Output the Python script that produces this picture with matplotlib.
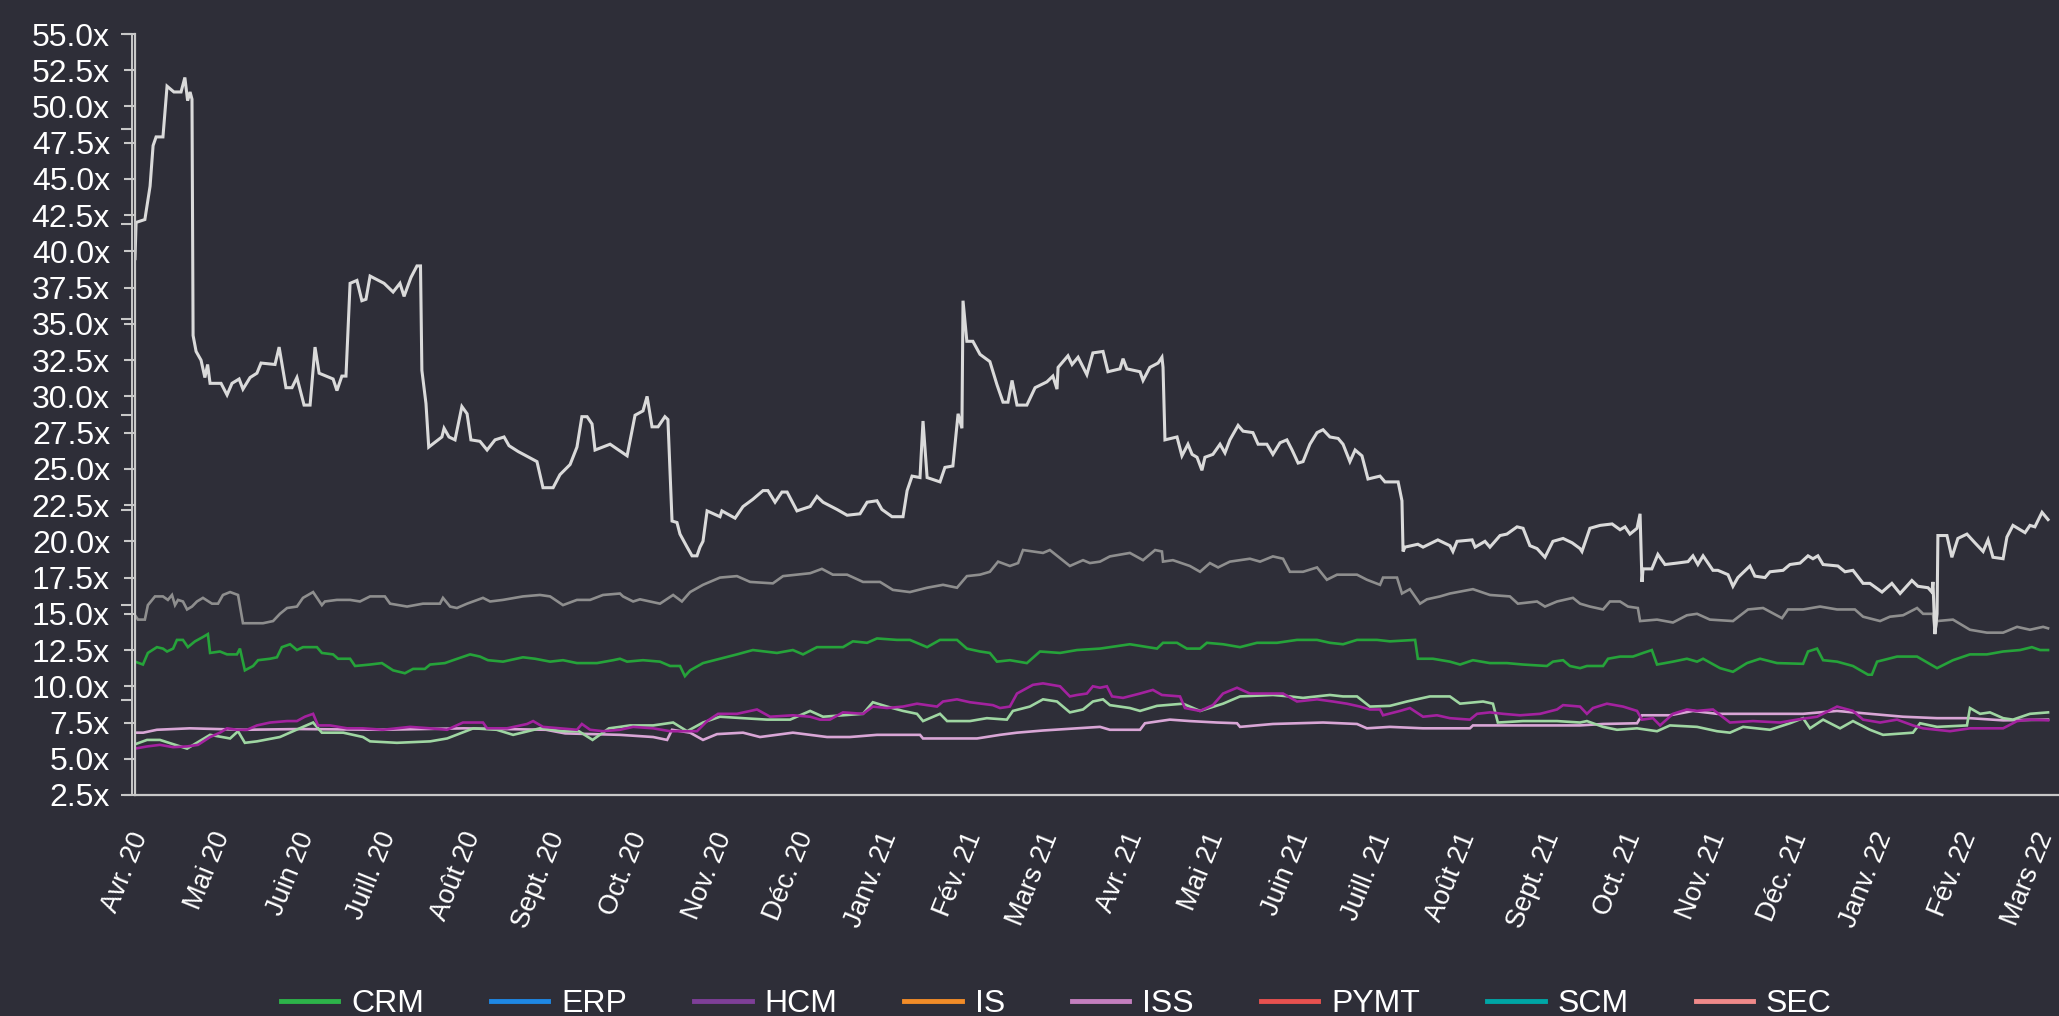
import numpy as np
import matplotlib
matplotlib.use("Agg")
import matplotlib.pyplot as plt
import matplotlib.transforms as mtransforms
from matplotlib.lines import Line2D

plt.rcParams['font.family'] = ['Liberation Sans', 'DejaVu Sans']

# ---------------- data ----------------
# x positions are in "chart days" (time axis units)
x_range = (0.0, 702.2)

month_labels = ['Avr. 20', 'Mai 20', 'Juin 20', 'Juill. 20', 'Août 20', 'Sept. 20',
                'Oct. 20', 'Nov. 20', 'Déc. 20', 'Janv. 21', 'Fév. 21', 'Mars 21',
                'Avr. 21', 'Mai 21', 'Juin 21', 'Juill. 21', 'Août 21', 'Sept. 21',
                'Oct. 21', 'Nov. 21', 'Déc. 21', 'Janv. 22', 'Fév. 22', 'Mars 22']
month_tick_pos = [0.0, 29.8, 60.7, 90.5, 121.4, 152.2, 182.0, 212.9, 242.7, 273.5, 304.4, 332.2,
                  363.1, 392.9, 423.7, 453.6, 484.4, 515.3, 545.1, 575.9, 605.8, 636.6, 667.4, 695.3]

legend_names = ['CRM', 'ERP', 'HCM', 'IS', 'ISS', 'PYMT', 'SCM', 'SEC']
legend_colors = ['#2db34a', '#1e88e5', '#7e3f98', '#f28c28', '#c47fbf', '#e8514f', '#00a6a6', '#f08a8a']

y_ticks = [2.5, 5.0, 7.5, 10.0, 12.5, 15.0, 17.5, 20.0, 22.5, 25.0, 27.5, 30.0,
           32.5, 35.0, 37.5, 40.0, 42.5, 45.0, 47.5, 50.0, 52.5, 55.0]

white_days = [0.0, 0.4, 3.6, 5.5, 6.6, 7.7, 10.2, 11.7, 14.2, 16.8, 18.2, 19.2, 20.1, 20.8, 21.2, 22.3, 24.1, 25.5, 26.5, 27.4,
              31.4, 33.6, 35.4, 38.0, 39.4, 42.0, 44.5, 46.0, 51.1, 52.6, 55.1, 57.3, 59.1, 61.7, 63.9, 65.7, 67.2, 72.3, 73.7, 75.5,
              77.0, 78.5, 81.0, 82.8, 84.3, 85.8, 90.9, 94.2, 96.7, 98.2, 100.7, 102.9, 104.2, 104.7, 106.2, 107.2, 112.0, 112.8, 114.6, 116.8,
              119.3, 121.2, 122.6, 125.9, 128.5, 131.4, 134.7, 136.5, 139.8, 146.7, 148.9, 152.6, 155.1, 158.8, 161.3, 163.1, 165.0, 166.8, 167.9, 173.4,
              178.1, 179.6, 182.5, 185.4, 186.9, 188.7, 190.9, 193.4, 194.5, 196.0, 197.8, 198.9, 201.5, 203.3, 205.1, 206.2, 207.3, 208.8, 213.5, 214.2,
              219.0, 221.9, 225.5, 229.2, 231.0, 233.6, 236.1, 238.0, 241.6, 246.4, 248.9, 251.1, 256.2, 259.9, 264.6, 267.2, 270.8, 272.6, 276.3, 280.3,
              281.8, 283.6, 286.5, 287.6, 289.1, 293.8, 295.6, 298.5, 300.4, 301.8, 302.2, 303.6, 305.8, 308.4, 312.0, 314.6, 316.8, 318.6, 320.1, 321.9,
              325.5, 328.5, 332.8, 335.0, 336.5, 336.9, 340.5, 342.0, 344.2, 347.4, 349.6, 353.3, 355.1, 359.5, 360.6, 362.0, 366.8, 367.9, 370.4, 373.4,
              374.8, 375.2, 375.9, 380.3, 382.1, 384.3, 385.8, 387.6, 389.4, 390.5, 393.4, 396.0, 397.8, 399.6, 402.6, 404.4, 408.0, 409.9, 413.1, 415.3,
              417.9, 420.4, 422.3, 424.5, 426.3, 428.8, 431.4, 433.6, 436.1, 439.1, 440.9, 443.4, 445.3, 447.8, 450.0, 454.4, 456.2, 461.0, 462.4, 462.8,
              463.5, 468.2, 470.1, 475.5, 479.9, 481.0, 482.5, 488.0, 489.1, 492.7, 494.5, 498.2, 500.7, 504.4, 506.6, 509.1, 511.7, 514.6, 517.5, 521.2,
              524.5, 527.4, 528.1, 531.0, 534.7, 539.1, 542.0, 543.8, 545.6, 548.2, 549.3, 550.0, 550.4, 553.6, 555.8, 558.4, 562.8, 566.8, 568.6, 570.4,
              572.3, 575.9, 577.7, 581.4, 583.2, 585.0, 589.4, 591.2, 594.9, 596.7, 601.5, 604.0, 607.7, 610.6, 612.4, 614.2, 616.1, 621.5, 624.1, 627.0,
              630.7, 633.2, 637.6, 641.2, 644.2, 648.5, 650.7, 654.4, 655.8, 656.2, 656.9, 657.7, 658.0, 661.3, 663.1, 665.3, 668.6, 671.5, 674.5, 676.3,
              678.1, 681.8, 683.2, 685.4, 689.8, 691.6, 693.4, 696.0, 698.2]
white_vals = [39.5, 42.0, 42.2, 44.5, 47.3, 47.9, 47.9, 51.4, 51.0, 51.0, 52.0, 50.4, 51.0, 50.5, 34.2, 33.1, 32.5, 31.3, 32.2, 30.9,
              30.9, 30.1, 30.9, 31.2, 30.5, 31.3, 31.6, 32.3, 32.2, 33.4, 30.6, 30.6, 31.3, 29.4, 29.4, 33.4, 31.6, 31.2, 30.4, 31.4,
              31.4, 37.8, 38.0, 36.6, 36.7, 38.3, 37.8, 37.2, 37.8, 36.9, 38.2, 39.0, 39.0, 31.8, 29.5, 26.5, 27.2, 27.8, 27.2, 27.0,
              29.3, 28.8, 27.0, 26.9, 26.3, 27.0, 27.2, 26.6, 26.2, 25.5, 23.7, 23.7, 24.6, 25.3, 26.5, 28.6, 28.6, 28.1, 26.3, 26.7,
              26.1, 25.9, 28.7, 29.0, 30.0, 27.9, 27.9, 28.6, 28.4, 21.4, 21.3, 20.5, 19.6, 19.0, 19.0, 19.6, 20.0, 22.1, 21.7, 22.1,
              21.6, 22.4, 22.9, 23.5, 23.5, 22.7, 23.4, 23.4, 22.1, 22.4, 23.1, 22.7, 22.2, 21.8, 21.9, 22.7, 22.8, 22.2, 21.7, 21.7,
              23.5, 24.5, 24.4, 28.3, 24.4, 24.1, 25.1, 25.2, 28.8, 27.8, 36.6, 33.8, 33.8, 32.9, 32.4, 30.8, 29.6, 29.6, 31.1, 29.4,
              29.4, 30.6, 31.0, 31.4, 30.5, 32.0, 32.8, 32.2, 32.7, 31.5, 33.0, 33.1, 31.7, 31.9, 32.6, 31.9, 31.7, 31.1, 32.0, 32.3,
              32.7, 32.0, 27.0, 27.2, 25.9, 26.7, 26.0, 25.8, 24.9, 25.8, 26.0, 26.7, 26.1, 27.0, 28.0, 27.6, 27.5, 26.7, 26.7, 26.0,
              26.8, 27.0, 26.3, 25.4, 25.5, 26.7, 27.5, 27.7, 27.2, 27.1, 26.7, 25.5, 26.3, 25.9, 24.3, 24.5, 24.1, 24.1, 22.8, 19.3,
              19.6, 19.8, 19.6, 20.1, 19.7, 19.3, 20.0, 20.1, 19.6, 20.0, 19.6, 20.4, 20.5, 21.0, 20.9, 19.7, 19.5, 18.9, 20.0, 20.2,
              19.9, 19.5, 19.3, 20.9, 21.1, 21.2, 20.8, 21.0, 20.5, 20.9, 21.9, 17.2, 18.1, 18.1, 19.1, 18.4, 18.5, 18.6, 19.0, 18.4,
              19.0, 18.0, 18.0, 17.7, 16.9, 17.5, 18.3, 17.6, 17.5, 17.9, 18.0, 18.4, 18.5, 19.0, 18.8, 19.0, 18.4, 18.3, 17.9, 18.0,
              17.1, 17.1, 16.5, 17.1, 16.4, 17.3, 16.9, 16.8, 16.5, 17.2, 13.6, 15.0, 20.4, 20.4, 18.9, 20.2, 20.5, 19.9, 19.3, 20.1,
              18.9, 18.8, 20.3, 21.1, 20.6, 21.1, 21.0, 22.0, 21.5]

gray_days = [0.0, 1.1, 3.6, 4.7, 7.3, 10.2, 12.0, 13.5, 14.6, 15.7, 17.5, 19.0, 20.8, 22.6, 24.8, 28.1, 30.3, 32.1, 34.7, 37.6,
             39.4, 42.0, 46.7, 50.4, 52.9, 55.5, 59.1, 61.3, 65.0, 68.2, 69.3, 73.7, 78.5, 82.1, 85.8, 91.2, 93.1, 99.3, 105.1, 111.3,
             112.4, 115.0, 117.5, 121.2, 127.0, 129.6, 134.3, 141.6, 147.8, 151.5, 156.2, 161.3, 166.1, 170.8, 177.0, 178.1, 181.8, 184.3, 191.6, 196.4,
             199.6, 202.6, 207.3, 213.5, 219.7, 224.5, 232.8, 236.5, 246.4, 250.7, 254.7, 259.9, 265.7, 271.9, 276.6, 282.8, 289.1, 294.9, 300.0, 303.6,
             308.4, 312.0, 315.0, 319.3, 322.3, 324.1, 331.4, 333.9, 341.2, 346.0, 348.5, 352.2, 355.8, 363.1, 367.9, 372.3, 374.8, 375.2, 378.8, 385.0,
             388.7, 392.3, 395.3, 399.6, 406.9, 410.6, 415.3, 419.0, 421.5, 426.3, 431.4, 435.0, 438.7, 446.0, 449.6, 454.4, 455.5, 460.6, 462.4, 465.3,
             469.0, 471.5, 476.3, 479.9, 488.3, 494.5, 501.8, 504.7, 511.7, 514.6, 519.0, 524.8, 527.4, 531.0, 535.8, 538.3, 542.0, 544.9, 548.5, 549.3,
             555.5, 561.3, 566.4, 570.1, 574.8, 583.2, 588.7, 594.2, 601.1, 603.3, 608.8, 615.0, 621.2, 627.7, 630.7, 636.9, 640.5, 645.3, 650.4, 652.6,
             656.2, 656.9, 657.7, 663.5, 669.7, 675.9, 681.8, 686.9, 691.6, 696.4, 698.2]
gray_vals = [14.9, 14.6, 14.6, 15.6, 16.2, 16.2, 15.96, 16.3, 15.6, 15.96, 15.85, 15.3, 15.5, 15.85, 16.1, 15.7, 15.7, 16.3, 16.5, 16.3,
             14.35, 14.35, 14.35, 14.5, 15.0, 15.4, 15.5, 16.1, 16.5, 15.6, 15.85, 15.96, 15.96, 15.85, 16.2, 16.2, 15.7, 15.5, 15.7, 15.7,
             16.1, 15.5, 15.4, 15.7, 16.1, 15.85, 15.96, 16.2, 16.3, 16.2, 15.6, 15.96, 15.96, 16.3, 16.4, 16.2, 15.85, 16.0, 15.7, 16.3,
             15.85, 16.5, 17.0, 17.5, 17.6, 17.2, 17.1, 17.6, 17.8, 18.1, 17.7, 17.7, 17.2, 17.2, 16.65, 16.5, 16.8, 17.0, 16.8, 17.6,
             17.7, 17.9, 18.6, 18.3, 18.5, 19.4, 19.2, 19.4, 18.3, 18.7, 18.5, 18.6, 18.96, 19.2, 18.7, 19.4, 19.3, 18.6, 18.7, 18.3,
             17.9, 18.5, 18.2, 18.6, 18.8, 18.6, 18.96, 18.8, 17.9, 17.9, 18.2, 17.35, 17.7, 17.7, 17.35, 17.0, 17.5, 17.5, 16.4, 16.7,
             15.7, 16.0, 16.2, 16.4, 16.7, 16.3, 16.2, 15.7, 15.85, 15.5, 15.85, 16.1, 15.7, 15.5, 15.3, 15.85, 15.85, 15.5, 15.4, 14.5,
             14.6, 14.4, 14.9, 15.0, 14.6, 14.5, 15.3, 15.4, 14.7, 15.3, 15.3, 15.5, 15.3, 15.3, 14.8, 14.5, 14.8, 14.9, 15.4, 15.0,
             15.0, 13.7, 14.5, 14.6, 13.9, 13.7, 13.7, 14.1, 13.9, 14.1, 14.0]

crm_days = [0.0, 2.9, 4.7, 8.0, 10.2, 11.7, 13.9, 15.3, 17.5, 19.3, 21.9, 24.8, 26.6, 27.4, 31.0, 33.6, 37.2, 38.3, 40.1, 43.1,
            44.9, 49.3, 51.8, 53.6, 56.6, 59.1, 61.3, 66.4, 68.2, 72.3, 74.1, 78.5, 80.3, 85.8, 90.1, 94.2, 98.5, 101.5, 105.8, 107.7,
            113.1, 116.1, 122.3, 125.9, 128.8, 134.3, 141.6, 146.0, 151.5, 156.2, 161.3, 168.6, 174.5, 177.0, 179.6, 185.4, 191.6, 195.3, 198.9, 200.7,
            202.6, 207.3, 213.5, 219.7, 225.5, 234.3, 240.1, 243.8, 248.9, 258.4, 262.0, 267.2, 270.8, 278.1, 282.8, 289.1, 293.8, 300.0, 303.6, 308.4,
            312.0, 314.6, 319.3, 325.5, 330.3, 337.6, 343.8, 352.2, 355.8, 363.1, 373.0, 375.2, 380.3, 383.9, 388.7, 391.2, 397.1, 403.3, 409.5, 416.8,
            424.1, 431.4, 436.1, 440.9, 446.0, 453.3, 458.0, 467.2, 468.2, 473.7, 479.9, 483.6, 488.3, 494.5, 500.7, 506.6, 515.3, 517.5, 521.2, 523.7,
            527.4, 529.9, 535.8, 537.6, 542.0, 546.7, 550.4, 553.6, 555.5, 561.3, 566.4, 570.1, 572.3, 578.5, 583.2, 588.3, 593.1, 599.3, 608.8, 610.6,
            613.9, 616.1, 621.2, 627.0, 632.5, 633.9, 635.8, 643.1, 650.4, 657.7, 663.5, 669.7, 675.9, 681.8, 688.0, 692.3, 695.3, 698.2]
crm_vals = [11.7, 11.5, 12.3, 12.7, 12.6, 12.4, 12.6, 13.2, 13.2, 12.7, 13.1, 13.4, 13.6, 12.3, 12.4, 12.2, 12.2, 12.6, 11.1, 11.4,
            11.8, 11.9, 12.0, 12.7, 12.9, 12.5, 12.7, 12.7, 12.3, 12.2, 11.9, 11.9, 11.4, 11.5, 11.6, 11.1, 10.9, 11.2, 11.2, 11.5,
            11.6, 11.8, 12.2, 12.05, 11.8, 11.7, 12.0, 11.9, 11.7, 11.8, 11.6, 11.6, 11.8, 11.9, 11.7, 11.8, 11.7, 11.4, 11.4, 10.7,
            11.1, 11.6, 11.9, 12.2, 12.5, 12.3, 12.5, 12.2, 12.7, 12.7, 13.1, 13.0, 13.3, 13.2, 13.2, 12.7, 13.2, 13.2, 12.6, 12.4,
            12.3, 11.7, 11.8, 11.6, 12.4, 12.3, 12.5, 12.6, 12.7, 12.9, 12.6, 13.0, 13.0, 12.6, 12.6, 13.0, 12.9, 12.7, 13.0, 13.0,
            13.2, 13.2, 13.0, 12.9, 13.2, 13.2, 13.1, 13.2, 11.9, 11.9, 11.7, 11.5, 11.8, 11.6, 11.6, 11.5, 11.4, 11.7, 11.8, 11.4,
            11.25, 11.4, 11.4, 11.9, 12.05, 12.05, 12.3, 12.5, 11.5, 11.7, 11.9, 11.7, 11.9, 11.25, 11.0, 11.6, 11.9, 11.6, 11.55, 12.4,
            12.6, 11.8, 11.7, 11.4, 10.8, 10.8, 11.7, 12.05, 12.05, 11.25, 11.8, 12.2, 12.2, 12.4, 12.5, 12.7, 12.5, 12.5]

magenta_days = [0.0, 4.4, 9.1, 13.9, 19.0, 23.0, 27.4, 31.0, 33.6, 37.2, 40.9, 44.5, 49.3, 55.5, 59.1, 62.0, 65.0, 66.8, 71.2, 77.4,
                83.2, 90.5, 100.4, 107.7, 113.9, 119.7, 127.0, 128.5, 135.8, 143.1, 145.3, 148.9, 155.1, 161.3, 163.1, 166.1, 170.8, 177.0, 181.8, 189.1,
                195.3, 205.1, 208.8, 212.8, 219.7, 227.0, 231.8, 240.1, 246.4, 250.0, 253.6, 258.4, 265.7, 269.3, 274.5, 280.3, 285.4, 292.7, 294.9, 300.0,
                304.7, 313.1, 315.7, 319.3, 321.9, 327.7, 331.4, 337.6, 341.2, 343.8, 347.4, 349.6, 352.2, 354.7, 356.6, 360.6, 366.8, 371.5, 374.8, 381.4,
                383.2, 388.7, 393.4, 397.1, 402.2, 406.9, 414.2, 419.0, 424.1, 431.4, 437.2, 442.3, 447.1, 450.7, 454.4, 455.5, 461.7, 465.3, 470.1, 475.2,
                479.9, 487.2, 489.8, 494.5, 499.3, 505.5, 512.8, 519.0, 521.2, 527.4, 529.9, 532.1, 537.2, 543.1, 548.2, 550.0, 554.0, 556.6, 561.3, 566.4,
                570.1, 575.9, 582.1, 590.5, 600.4, 606.6, 613.9, 621.2, 627.0, 630.7, 636.9, 643.1, 648.9, 652.6, 662.4, 669.7, 681.8, 686.9, 691.6, 698.2]
magenta_vals = [5.7, 5.85, 5.96, 5.8, 5.85, 5.96, 6.5, 6.8, 7.1, 7.0, 7.0, 7.3, 7.5, 7.6, 7.6, 7.9, 8.1, 7.3, 7.3, 7.1,
                7.1, 7.0, 7.2, 7.1, 7.0, 7.5, 7.5, 7.1, 7.1, 7.4, 7.6, 7.2, 7.1, 7.0, 7.4, 7.0, 6.9, 7.0, 7.2, 7.1,
                6.9, 6.9, 7.6, 8.1, 8.1, 8.4, 7.9, 8.0, 7.9, 7.7, 7.7, 8.2, 8.1, 8.6, 8.5, 8.6, 8.8, 8.6, 8.95, 9.1,
                8.9, 8.7, 8.5, 8.6, 9.5, 10.1, 10.2, 10.0, 9.3, 9.4, 9.5, 10.0, 9.9, 10.0, 9.3, 9.2, 9.5, 9.75, 9.4, 9.3,
                8.5, 8.3, 8.7, 9.5, 9.9, 9.5, 9.5, 9.5, 8.95, 9.1, 8.95, 8.8, 8.6, 8.4, 8.4, 8.0, 8.3, 8.5, 7.9, 8.0,
                7.8, 7.7, 8.1, 8.2, 8.1, 8.0, 8.1, 8.4, 8.7, 8.6, 8.1, 8.5, 8.8, 8.6, 8.3, 7.7, 7.8, 7.3, 8.1, 8.4,
                8.3, 8.4, 7.5, 7.6, 7.5, 7.7, 7.9, 8.6, 8.3, 7.7, 7.5, 7.7, 7.3, 7.1, 6.9, 7.1, 7.1, 7.6, 7.7, 7.65]

lightgreen_days = [0.0, 4.4, 9.1, 19.0, 27.4, 34.7, 37.6, 40.1, 44.5, 52.9, 61.3, 65.0, 68.2, 76.0, 83.2, 85.8, 95.6, 107.7, 113.9, 123.5,
                   132.0, 138.0, 147.8, 156.2, 162.0, 167.0, 173.0, 177.0, 180.7, 189.1, 196.4, 201.5, 207.3, 213.5, 221.9, 230.7, 239.1, 246.4, 251.1, 258.4,
                   265.7, 269.3, 274.5, 280.3, 285.4, 287.6, 293.8, 296.4, 304.7, 310.9, 318.2, 320.4, 326.6, 331.4, 336.5, 341.2, 346.0, 349.6, 353.3, 355.8,
                   363.1, 366.8, 373.0, 382.5, 388.7, 397.1, 403.3, 415.3, 421.5, 426.3, 436.1, 440.9, 446.0, 450.7, 458.0, 464.2, 472.6, 479.9, 483.6, 492.0,
                   495.6, 497.4, 506.6, 519.0, 527.4, 529.9, 535.8, 540.9, 548.2, 555.5, 560.2, 570.1, 577.4, 582.1, 586.9, 596.7, 604.0, 608.8, 611.3, 616.1,
                   622.3, 627.0, 633.2, 638.0, 648.9, 651.5, 657.7, 668.6, 669.7, 673.4, 677.0, 681.8, 685.4, 691.6, 698.2]
lightgreen_vals = [6.0, 6.3, 6.3, 5.7, 6.65, 6.4, 6.9, 6.1, 6.2, 6.5, 7.2, 7.5, 6.8, 6.8, 6.5, 6.2, 6.1, 6.2, 6.4, 7.1,
                   7.0, 6.65, 7.1, 6.9, 6.9, 6.3, 7.1, 7.2, 7.3, 7.3, 7.5, 6.9, 7.5, 7.9, 7.8, 7.7, 7.7, 8.3, 7.9, 8.0,
                   8.1, 8.9, 8.6, 8.3, 8.1, 7.6, 8.1, 7.6, 7.6, 7.8, 7.7, 8.3, 8.6, 9.1, 8.95, 8.2, 8.4, 8.95, 9.1, 8.7,
                   8.5, 8.3, 8.65, 8.8, 8.3, 8.8, 9.3, 9.4, 9.3, 9.2, 9.4, 9.3, 9.3, 8.6, 8.65, 8.95, 9.3, 9.3, 8.8, 8.95,
                   8.8, 7.5, 7.6, 7.6, 7.5, 7.6, 7.2, 7.0, 7.1, 6.9, 7.3, 7.2, 6.9, 6.8, 7.2, 7.0, 7.45, 7.8, 7.1, 7.7,
                   7.1, 7.6, 7.0, 6.65, 6.8, 7.45, 7.2, 7.3, 8.5, 8.1, 8.2, 7.8, 7.7, 8.1, 8.2]

pink_days = [0.0, 3.0, 8.0, 20.0, 40.0, 60.0, 90.0, 120.0, 150.0, 157.0, 177.0, 189.1, 194.2, 196.0, 202.6, 207.3, 212.4, 221.9, 228.1, 240.1,
             252.6, 260.9, 270.8, 286.5, 287.6, 307.3, 315.7, 321.9, 331.4, 343.8, 352.2, 355.8, 366.8, 368.6, 377.7, 385.0, 394.9, 402.2, 403.3, 415.3,
             433.6, 446.0, 449.6, 458.0, 470.1, 487.2, 488.3, 506.6, 527.4, 535.8, 548.2, 550.0, 560.2, 568.6, 577.4, 584.7, 596.7, 608.8, 621.2, 633.2,
             645.3, 657.7, 669.7, 681.8, 698.2]
pink_vals = [6.8, 6.8, 7.0, 7.1, 7.0, 7.05, 7.0, 7.1, 7.0, 6.75, 6.65, 6.5, 6.3, 7.0, 6.8, 6.3, 6.7, 6.8, 6.5, 6.8,
             6.5, 6.5, 6.65, 6.65, 6.4, 6.4, 6.65, 6.8, 6.95, 7.1, 7.2, 7.0, 7.0, 7.45, 7.7, 7.6, 7.5, 7.45, 7.2, 7.4,
             7.5, 7.4, 7.1, 7.2, 7.1, 7.1, 7.3, 7.3, 7.3, 7.4, 7.45, 8.0, 8.0, 8.3, 8.1, 8.1, 8.1, 8.1, 8.3, 8.1,
             7.9, 7.8, 7.8, 7.65, 7.7]

# ---------------- figure ----------------
BG = '#2e2e38'
AX_COL = '#c8c8c8'
fig = plt.figure(figsize=(20.59, 10.16), dpi=100, facecolor=BG)
ax = fig.add_axes([135 / 2059, 1 - 795 / 1016, 1 - 135 / 2059, (795 - 34) / 1016])
ax.set_facecolor(BG)

series = [
    (pink_days, pink_vals, '#d9a6d6', 1.9),
    (lightgreen_days, lightgreen_vals, '#9fd6a2', 1.9),
    (magenta_days, magenta_vals, '#a3229f', 1.9),
    (crm_days, crm_vals, '#26a33a', 1.9),
    (gray_days, gray_vals, '#8e8e8e', 1.9),
    (white_days, white_vals, '#dadada', 2.2),
]
for d, v, c, lw in series:
    ax.plot(d, v, color=c, lw=lw, solid_joinstyle='miter')

ax.set_xlim(*x_range)
ax.set_ylim(2.5, 55.0)

ax.set_xticks(month_tick_pos)
ax.set_xticklabels(month_labels, rotation=68, ha='right', va='top',
                   rotation_mode='anchor', color='white', fontsize=19.5)
ax.tick_params(axis='x', length=0, pad=24)
shift = mtransforms.ScaledTranslation(-6 / 100, 0, fig.dpi_scale_trans)
for lab in ax.get_xticklabels():
    lab.set_transform(lab.get_transform() + shift)

ax.set_yticks(y_ticks)
ax.set_yticklabels([f'{v:.1f}x' for v in y_ticks], color='white', fontsize=23)
ax.tick_params(axis='y', length=8, width=1.5, color=AX_COL, pad=10)

for s in ['top', 'right']:
    ax.spines[s].set_visible(False)
for s in ['left', 'bottom']:
    ax.spines[s].set_color(AX_COL)
    ax.spines[s].set_linewidth(1.6)

# secondary (ghost) left axis with its own ticks
ax2 = ax.twinx()
ax2.set_ylim(0, 8)
ax2.yaxis.tick_left()
ax2.set_yticks(range(9))
ax2.set_yticklabels([])
ax2.tick_params(axis='y', length=8, width=1.5, color=AX_COL)
for s in ['top', 'right', 'bottom']:
    ax2.spines[s].set_visible(False)
ax2.spines['left'].set_visible(True)
ax2.spines['left'].set_position(('outward', 2.5))
ax2.spines['left'].set_color(AX_COL)
ax2.spines['left'].set_linewidth(1.4)
ax2.patch.set_visible(False)

handles = [Line2D([0], [0], color=c, lw=3.5) for c in legend_colors]
leg = fig.legend(handles, legend_names, loc='center', bbox_to_anchor=(0.513, 0.012),
                 ncol=len(legend_names), frameon=False, fontsize=23, handlelength=1.8,
                 handletextpad=0.4, columnspacing=2.1)
for t in leg.get_texts():
    t.set_color('white')

fig.savefig('out.png', dpi=100, facecolor=BG)
